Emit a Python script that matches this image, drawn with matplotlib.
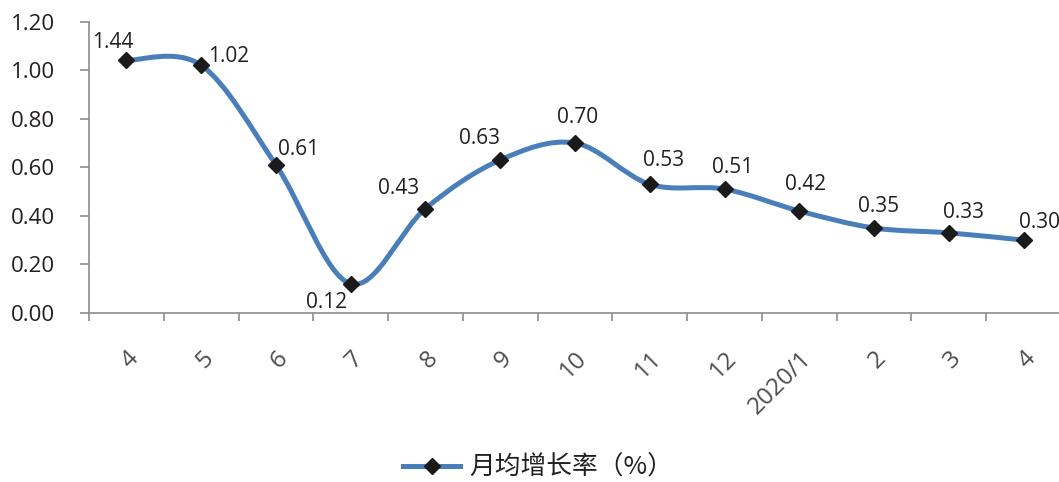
import numpy as np
import matplotlib.pyplot as plt
from matplotlib.path import Path
from matplotlib.patches import PathPatch
from matplotlib.lines import Line2D

months = ['4', '5', '6', '7', '8', '9', '10', '11', '12', '2020/1', '2', '3', '4']
growth = [1.04, 1.02, 0.61, 0.12, 0.43, 0.63, 0.70, 0.53, 0.51, 0.42, 0.35, 0.33, 0.30]
point_labels = ['1.44', '1.02', '0.61', '0.12', '0.43', '0.63', '0.70',
                '0.53', '0.51', '0.42', '0.35', '0.33', '0.30']

# label offsets in pixels (dx, dy) and horizontal alignment
label_pos = [(-14, 18, 'center'), (7, 9, 'left'), (2, 15, 'left'), (-24, -19, 'center'),
             (-27, 20, 'center'), (-21, 21, 'center'), (3, 25, 'center'), (14, 24, 'center'),
             (8, 22, 'center'), (6, 26, 'center'), (4, 21, 'center'), (15, 20, 'center'),
             (16, 18, 'center')]

plt.rcParams['font.family'] = ['Open Sans', 'Noto Sans CJK SC', 'DejaVu Sans']
text_col = '#231f20'
axis_col = '#8c8c8c'
line_col = '#4a7ebb'

fig = plt.figure(figsize=(10.59, 4.82), dpi=100)
ax = fig.add_axes([89 / 1059, 169 / 482, 972 / 1059, 291.5 / 482])

x = np.arange(len(growth))
y = np.array(growth)

# smoothed line: cubic bezier segments, excel style
pts = np.column_stack([x, y])
verts = [pts[0]]
codes = [Path.MOVETO]
n = len(pts)
for i in range(n - 1):
    p0 = pts[i - 1] if i > 0 else pts[i]
    p1 = pts[i]
    p2 = pts[i + 1]
    p3 = pts[i + 2] if i + 2 < n else pts[i + 1]
    c1 = p1 + (p2 - p0) / 6
    c2 = p2 - (p3 - p1) / 6
    verts += [c1, c2, p2]
    codes += [Path.CURVE4] * 3
ax.add_patch(PathPatch(Path(verts, codes), facecolor='none', edgecolor=line_col,
                       lw=3.6, capstyle='round', zorder=2))
ax.plot(x, y, ls='none', marker='D', ms=8, color='#1a1a1a', zorder=3)

for xi, yi, lab, (dx, dy, ha) in zip(x, y, point_labels, label_pos):
    ax.annotate(lab, (xi, yi), xytext=(dx, dy), textcoords='offset pixels',
                ha=ha, va='center', fontsize=15, color=text_col)

ax.set_xlim(-0.5, len(months) - 0.5)
ax.set_ylim(0, 1.2)
ax.set_yticks(np.arange(0, 1.21, 0.2))
ax.set_yticklabels([f'{v:.2f}' for v in np.arange(0, 1.21, 0.2)], fontsize=16, color=text_col)
ax.set_xticks(x)
ax.set_xticklabels(months, rotation=45, ha='right', rotation_mode='anchor',
                   fontsize=17.5, color='#4d4d4d')
ax.set_xticks(np.arange(-0.5, len(months), 1), minor=True)
ax.tick_params(axis='x', which='major', length=0, pad=24)
ax.tick_params(axis='x', which='minor', length=6, color=axis_col, width=1.2)
ax.tick_params(axis='y', length=6.5, color=axis_col, width=1.2, pad=18)

for side in ['top', 'right']:
    ax.spines[side].set_visible(False)
for side in ['left', 'bottom']:
    ax.spines[side].set_color(axis_col)
    ax.spines[side].set_linewidth(1.2)

handle = Line2D([], [], color=line_col, lw=3.6, marker='D', ms=8,
                markerfacecolor='#1a1a1a', markeredgecolor='#1a1a1a')
fig.legend([handle], ['月均增长率（%）'], loc='center', bbox_to_anchor=(0.508, 0.03),
           frameon=False, handlelength=2.2, handletextpad=0.35,
           labelcolor=text_col, prop={'family': ['Noto Sans CJK SC'], 'size': 18.5})

fig.savefig('out.png', dpi=100)
